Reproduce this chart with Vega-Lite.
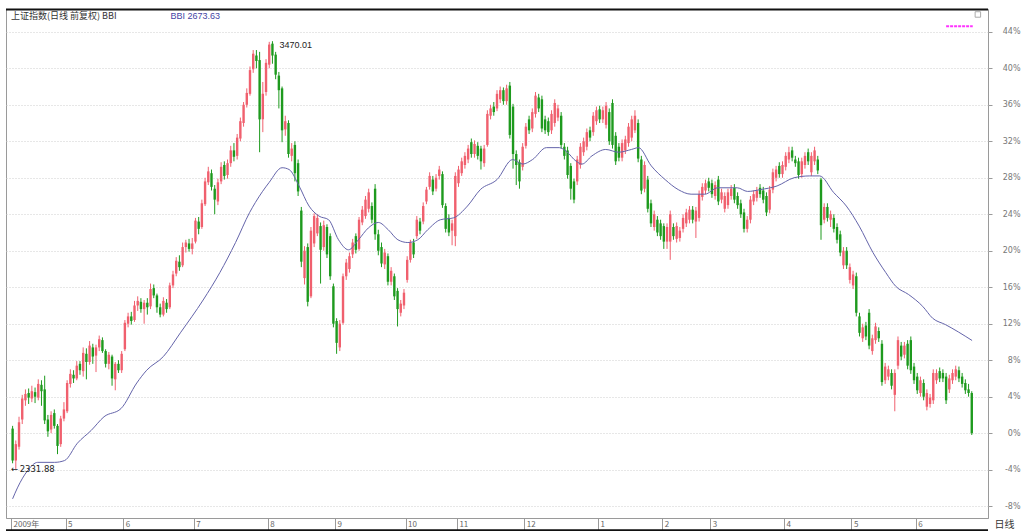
{
"$schema":"https://vega.github.io/schema/vega-lite/v6.json",
"autosize":{"type":"none"},
"padding":{"left":6,"top":9,"right":35,"bottom":13},
"width":982,"height":509,
"background":"white",
"config":{"view":{"stroke":"#9a9a9a"},"font":"DejaVu Sans"},
"datasets":{
"k":[
{"i":0,"o":0.5,"c":-3.0,"h":0.8,"l":-3.3},{"i":1,"o":-3.0,"c":-1.2,"h":-0.8,"l":-3.92},{"i":2,"o":-1.5,"c":1.2,"h":1.8,"l":-1.8},{"i":3,"o":1.5,"c":3.8,"h":4.2,"l":1.0},{"i":4,"o":3.6,"c":4.3,"h":4.8,"l":3.0},{"i":5,"o":4.4,"c":3.9,"h":4.9,"l":3.2},{"i":6,"o":3.8,"c":4.6,"h":5.2,"l":3.4},{"i":7,"o":4.5,"c":4.0,"h":5.0,"l":3.3},{"i":8,"o":3.9,"c":5.4,"h":5.9,"l":3.6},{"i":9,"o":5.3,"c":4.6,"h":5.8,"l":3.0},
{"i":10,"o":4.8,"c":1.4,"h":6.3,"l":1.0},{"i":11,"o":1.5,"c":0.2,"h":2.0,"l":-0.4},{"i":12,"o":0.4,"c":2.0,"h":2.4,"l":0.0},{"i":13,"o":2.2,"c":0.8,"h":2.6,"l":0.5},{"i":14,"o":0.8,"c":-1.4,"h":1.0,"l":-2.3},{"i":15,"o":-1.2,"c":1.6,"h":1.9,"l":-1.5},{"i":16,"o":1.6,"c":2.6,"h":3.4,"l":1.3},
{"i":17,"o":2.4,"c":5.5,"h":5.8,"l":2.2},{"i":18,"o":5.4,"c":6.5,"h":7.0,"l":5.0},{"i":19,"o":6.4,"c":6.0,"h":6.9,"l":5.5},{"i":20,"o":6.0,"c":7.4,"h":7.9,"l":5.8},{"i":21,"o":7.6,"c":6.9,"h":7.9,"l":6.4},{"i":22,"o":6.8,"c":8.8,"h":9.4,"l":6.2},{"i":23,"o":8.7,"c":7.8,"h":9.3,"l":5.9},{"i":24,"o":7.8,"c":9.6,"h":10.1,"l":7.5},{"i":25,"o":9.4,"c":8.4,"h":9.8,"l":7.6},{"i":26,"o":8.5,"c":9.4,"h":9.7,"l":6.7},{"i":27,"o":9.4,"c":10.3,"h":10.7,"l":9.0},{"i":28,"o":10.2,"c":9.0,"h":10.5,"l":8.8},{"i":29,"o":9.0,"c":7.6,"h":9.2,"l":7.2},{"i":30,"o":7.6,"c":8.6,"h":8.9,"l":7.0},{"i":31,"o":8.4,"c":6.0,"h":8.6,"l":5.2},{"i":32,"o":5.9,"c":7.6,"h":7.8,"l":4.7},{"i":33,"o":7.6,"c":6.9,"h":8.0,"l":6.6},{"i":34,"o":6.9,"c":8.7,"h":9.0,"l":6.6},
{"i":35,"o":9.2,"c":12.1,"h":12.4,"l":9.0},{"i":36,"o":12.0,"c":12.8,"h":13.2,"l":11.6},{"i":37,"o":12.8,"c":12.3,"h":13.3,"l":11.9},{"i":38,"o":12.4,"c":14.0,"h":14.5,"l":12.2},{"i":39,"o":14.0,"c":14.5,"h":15.0,"l":13.4},{"i":40,"o":14.4,"c":13.6,"h":14.8,"l":13.2},{"i":41,"o":13.6,"c":14.3,"h":14.6,"l":12.0},{"i":42,"o":14.3,"c":13.8,"h":14.8,"l":13.0},{"i":43,"o":13.9,"c":15.8,"h":16.4,"l":13.6},{"i":44,"o":15.9,"c":15.1,"h":16.3,"l":14.8},{"i":45,"o":15.1,"c":13.8,"h":15.3,"l":13.2},{"i":46,"o":13.8,"c":13.0,"h":14.2,"l":12.7},{"i":47,"o":13.0,"c":14.5,"h":14.9,"l":12.8},{"i":48,"o":14.3,"c":13.6,"h":14.7,"l":13.2},{"i":49,"o":13.8,"c":16.2,"h":16.5,"l":13.6},{"i":50,"o":16.2,"c":17.4,"h":17.8,"l":15.9},{"i":51,"o":17.5,"c":18.9,"h":19.3,"l":17.2},{"i":52,"o":18.8,"c":18.2,"h":19.5,"l":17.8},{"i":53,"o":18.4,"c":20.4,"h":20.9,"l":18.2},{"i":54,"o":20.4,"c":20.9,"h":21.2,"l":19.8},{"i":55,"o":20.8,"c":20.2,"h":21.3,"l":19.9},{"i":56,"o":20.2,"c":20.8,"h":21.4,"l":19.6},
{"i":57,"o":21.0,"c":23.3,"h":23.6,"l":20.8},{"i":58,"o":23.2,"c":22.4,"h":23.7,"l":21.8},{"i":59,"o":22.6,"c":25.2,"h":25.6,"l":22.4},{"i":60,"o":25.1,"c":27.6,"h":28.0,"l":24.9},{"i":61,"o":27.5,"c":28.7,"h":29.2,"l":27.2},{"i":62,"o":28.5,"c":27.0,"h":28.9,"l":26.6},{"i":63,"o":26.8,"c":25.6,"h":27.2,"l":24.0},{"i":64,"o":25.4,"c":27.5,"h":27.9,"l":25.0},{"i":65,"o":27.6,"c":29.2,"h":29.7,"l":27.3},{"i":66,"o":29.4,"c":28.2,"h":29.8,"l":27.8},{"i":67,"o":28.3,"c":29.6,"h":30.0,"l":27.9},{"i":68,"o":29.6,"c":31.0,"h":31.5,"l":29.2},{"i":69,"o":31.0,"c":30.3,"h":31.8,"l":29.8},{"i":70,"o":30.4,"c":32.4,"h":32.8,"l":30.0},{"i":71,"o":32.3,"c":34.2,"h":34.6,"l":32.0},{"i":72,"o":34.0,"c":36.0,"h":36.3,"l":33.6},{"i":73,"o":36.0,"c":37.3,"h":37.8,"l":35.7},{"i":74,"o":37.2,"c":39.8,"h":40.2,"l":37.0},{"i":75,"o":39.9,"c":41.6,"h":42.0,"l":39.5},{"i":76,"o":41.4,"c":40.8,"h":42.0,"l":40.0},{"i":77,"o":40.9,"c":34.4,"h":41.8,"l":30.8},{"i":78,"o":34.4,"c":37.2,"h":38.5,"l":33.0},{"i":79,"o":37.4,"c":40.6,"h":41.0,"l":37.0},
{"i":80,"o":40.4,"c":42.6,"h":42.9,"l":40.0},{"i":81,"o":42.7,"c":41.4,"h":42.97,"l":40.5},{"i":82,"o":41.5,"c":39.3,"h":41.8,"l":38.8},{"i":83,"o":39.2,"c":37.6,"h":39.6,"l":35.6},{"i":84,"o":37.8,"c":33.2,"h":38.0,"l":31.9},{"i":85,"o":33.3,"c":34.2,"h":34.8,"l":32.6},{"i":86,"o":34.0,"c":30.6,"h":34.3,"l":30.2},{"i":87,"o":30.4,"c":31.2,"h":31.8,"l":29.8},{"i":88,"o":31.6,"c":28.5,"h":32.0,"l":27.6},{"i":89,"o":29.6,"c":26.5,"h":30.0,"l":26.0},{"i":90,"o":24.4,"c":18.8,"h":24.8,"l":18.2},{"i":91,"o":17.0,"c":20.0,"h":20.5,"l":16.3},{"i":92,"o":20.4,"c":14.4,"h":20.8,"l":13.9},{"i":93,"o":15.0,"c":22.2,"h":22.6,"l":14.8},{"i":94,"o":20.8,"c":23.8,"h":24.1,"l":20.4},{"i":95,"o":21.9,"c":23.6,"h":24.0,"l":21.6},{"i":96,"o":22.7,"c":20.1,"h":23.1,"l":16.4},{"i":97,"o":20.4,"c":22.8,"h":23.3,"l":20.0},{"i":98,"o":22.6,"c":19.6,"h":22.9,"l":19.2},{"i":99,"o":21.6,"c":17.2,"h":21.9,"l":16.8},{"i":100,"o":16.1,"c":12.0,"h":16.4,"l":11.6},
{"i":101,"o":12.3,"c":9.9,"h":12.6,"l":8.7},{"i":102,"o":9.4,"c":12.0,"h":12.4,"l":9.0},{"i":103,"o":12.1,"c":17.2,"h":17.5,"l":11.9},{"i":104,"o":17.2,"c":18.7,"h":19.1,"l":16.8},{"i":105,"o":18.0,"c":19.4,"h":19.8,"l":17.6},{"i":106,"o":19.6,"c":20.9,"h":21.3,"l":19.2},{"i":107,"o":21.6,"c":20.1,"h":21.9,"l":19.7},{"i":108,"o":20.2,"c":23.4,"h":23.7,"l":20.0},{"i":109,"o":23.1,"c":24.5,"h":24.9,"l":22.8},{"i":110,"o":23.8,"c":25.6,"h":26.0,"l":23.5},{"i":111,"o":24.6,"c":26.4,"h":26.8,"l":24.2},{"i":112,"o":24.9,"c":23.4,"h":25.3,"l":23.0},{"i":113,"o":26.8,"c":21.8,"h":27.3,"l":21.2},{"i":114,"o":21.8,"c":20.0,"h":22.3,"l":19.5},{"i":115,"o":20.4,"c":18.6,"h":20.9,"l":18.2},{"i":116,"o":18.5,"c":19.8,"h":20.2,"l":18.0},{"i":117,"o":19.4,"c":16.6,"h":19.7,"l":16.2},{"i":118,"o":16.6,"c":17.8,"h":18.2,"l":16.2},{"i":119,"o":17.2,"c":15.0,"h":17.5,"l":14.6},{"i":120,"o":15.6,"c":13.6,"h":15.9,"l":11.7},{"i":121,"o":13.2,"c":14.2,"h":14.6,"l":12.8},{"i":122,"o":14.0,"c":15.4,"h":15.8,"l":13.6},
{"i":123,"o":16.8,"c":19.0,"h":19.4,"l":16.5},{"i":124,"o":19.0,"c":20.9,"h":21.2,"l":18.7},{"i":125,"o":20.9,"c":19.6,"h":21.3,"l":19.2},{"i":126,"o":21.6,"c":23.4,"h":23.8,"l":21.3},{"i":127,"o":23.2,"c":22.2,"h":23.6,"l":21.8},{"i":128,"o":23.2,"c":24.9,"h":25.3,"l":22.9},{"i":129,"o":25.4,"c":26.7,"h":27.0,"l":25.1},{"i":130,"o":27.0,"c":28.2,"h":28.6,"l":26.7},{"i":131,"o":27.8,"c":26.5,"h":28.2,"l":26.1},{"i":132,"o":26.8,"c":28.0,"h":28.4,"l":26.5},{"i":133,"o":28.2,"c":28.9,"h":29.3,"l":27.8},{"i":134,"o":28.4,"c":25.0,"h":28.7,"l":24.7},{"i":135,"o":24.9,"c":22.4,"h":25.2,"l":22.0},{"i":136,"o":23.6,"c":22.0,"h":24.0,"l":21.6},{"i":137,"o":22.2,"c":23.0,"h":23.4,"l":20.6},{"i":138,"o":21.6,"c":28.2,"h":28.6,"l":20.5},
{"i":139,"o":27.4,"c":28.9,"h":29.3,"l":27.0},{"i":140,"o":28.5,"c":29.8,"h":30.2,"l":28.2},{"i":141,"o":29.4,"c":30.4,"h":30.8,"l":29.0},{"i":142,"o":30.0,"c":31.2,"h":31.6,"l":29.6},{"i":143,"o":31.9,"c":30.6,"h":32.3,"l":30.2},{"i":144,"o":30.6,"c":31.7,"h":32.1,"l":30.2},{"i":145,"o":31.5,"c":30.4,"h":31.9,"l":30.0},{"i":146,"o":31.2,"c":29.8,"h":31.5,"l":28.9},{"i":147,"o":29.6,"c":31.2,"h":31.6,"l":29.2},{"i":148,"o":31.6,"c":35.0,"h":35.4,"l":31.4},{"i":149,"o":34.8,"c":35.6,"h":36.0,"l":34.4},{"i":150,"o":35.8,"c":35.2,"h":36.3,"l":34.8},{"i":151,"o":35.6,"c":37.2,"h":37.6,"l":35.3},{"i":152,"o":36.6,"c":37.6,"h":38.0,"l":36.2},{"i":153,"o":37.6,"c":36.4,"h":37.9,"l":36.0},{"i":154,"o":36.4,"c":37.8,"h":38.2,"l":36.0},{"i":155,"o":38.1,"c":32.7,"h":38.5,"l":32.3},{"i":156,"o":35.8,"c":30.6,"h":36.1,"l":29.0},{"i":157,"o":30.6,"c":29.4,"h":31.0,"l":27.2},{"i":158,"o":29.7,"c":27.6,"h":30.0,"l":26.8},{"i":159,"o":29.2,"c":31.4,"h":31.8,"l":28.8},
{"i":160,"o":31.5,"c":33.6,"h":34.0,"l":31.2},{"i":161,"o":34.4,"c":33.2,"h":34.8,"l":32.8},{"i":162,"o":33.4,"c":35.2,"h":35.6,"l":33.0},{"i":163,"o":35.0,"c":37.0,"h":37.4,"l":34.6},{"i":164,"o":36.8,"c":35.6,"h":37.2,"l":35.2},{"i":165,"o":36.6,"c":33.4,"h":37.0,"l":33.0},{"i":166,"o":34.4,"c":33.2,"h":34.8,"l":32.8},{"i":167,"o":34.2,"c":33.0,"h":34.6,"l":32.6},{"i":168,"o":33.2,"c":35.0,"h":35.4,"l":32.8},{"i":169,"o":34.0,"c":36.2,"h":36.6,"l":33.6},{"i":170,"o":34.6,"c":35.6,"h":36.0,"l":34.2},{"i":171,"o":34.8,"c":31.6,"h":35.2,"l":31.2},{"i":172,"o":31.4,"c":30.4,"h":31.8,"l":30.0},{"i":173,"o":31.0,"c":28.3,"h":31.4,"l":27.9},{"i":174,"o":29.3,"c":26.8,"h":29.6,"l":25.6},{"i":175,"o":27.6,"c":25.6,"h":27.9,"l":25.2},{"i":176,"o":27.6,"c":30.0,"h":30.4,"l":27.2},{"i":177,"o":29.4,"c":31.4,"h":31.8,"l":29.0},{"i":178,"o":30.8,"c":32.0,"h":32.4,"l":30.4},{"i":179,"o":31.4,"c":33.0,"h":33.4,"l":31.0},{"i":180,"o":33.2,"c":32.4,"h":33.6,"l":32.0},{"i":181,"o":33.0,"c":34.8,"h":35.2,"l":32.6},{"i":182,"o":34.2,"c":35.4,"h":35.8,"l":33.8},
{"i":183,"o":35.5,"c":34.4,"h":35.9,"l":34.0},{"i":184,"o":34.4,"c":35.4,"h":35.8,"l":34.0},{"i":185,"o":33.8,"c":35.9,"h":36.3,"l":33.4},{"i":186,"o":35.2,"c":32.0,"h":35.6,"l":31.6},{"i":187,"o":36.2,"c":31.6,"h":36.6,"l":31.2},{"i":188,"o":32.6,"c":29.8,"h":33.0,"l":29.4},{"i":189,"o":31.4,"c":30.2,"h":31.8,"l":29.8},{"i":190,"o":30.2,"c":31.8,"h":32.2,"l":29.8},{"i":191,"o":31.0,"c":32.2,"h":32.6,"l":30.6},{"i":192,"o":31.8,"c":33.6,"h":34.0,"l":31.4},{"i":193,"o":32.4,"c":34.4,"h":34.8,"l":32.0},{"i":194,"o":33.2,"c":34.8,"h":35.4,"l":32.9},{"i":195,"o":34.0,"c":30.1,"h":34.4,"l":29.7},{"i":196,"o":30.0,"c":26.6,"h":30.4,"l":26.2},{"i":197,"o":26.8,"c":29.4,"h":29.8,"l":26.4},{"i":198,"o":27.8,"c":24.6,"h":28.2,"l":24.2},{"i":199,"o":25.2,"c":23.0,"h":25.6,"l":22.6},{"i":200,"o":22.6,"c":24.0,"h":24.4,"l":22.2},{"i":201,"o":23.4,"c":22.0,"h":23.8,"l":21.6},{"i":202,"o":23.0,"c":21.6,"h":23.4,"l":21.2},
{"i":203,"o":22.7,"c":21.0,"h":23.0,"l":20.2},{"i":204,"o":21.0,"c":22.6,"h":23.0,"l":20.2},{"i":205,"o":21.0,"c":24.0,"h":24.4,"l":19.0},{"i":206,"o":22.6,"c":21.6,"h":23.0,"l":21.2},{"i":207,"o":21.3,"c":22.7,"h":23.1,"l":20.9},{"i":208,"o":21.4,"c":22.2,"h":22.6,"l":21.0},{"i":209,"o":22.4,"c":23.6,"h":24.0,"l":22.0},{"i":210,"o":23.0,"c":24.2,"h":24.6,"l":22.6},{"i":211,"o":23.4,"c":24.5,"h":24.9,"l":23.0},{"i":212,"o":24.5,"c":23.4,"h":24.9,"l":23.0},{"i":213,"o":23.2,"c":24.4,"h":24.8,"l":21.4},{"i":214,"o":23.6,"c":26.2,"h":26.6,"l":23.2},{"i":215,"o":25.9,"c":27.0,"h":27.4,"l":25.5},{"i":216,"o":26.6,"c":27.4,"h":27.8,"l":26.2},{"i":217,"o":27.6,"c":26.9,"h":28.0,"l":26.5},
{"i":218,"o":27.4,"c":26.2,"h":27.8,"l":25.8},{"i":219,"o":26.0,"c":27.2,"h":27.6,"l":25.6},{"i":220,"o":27.8,"c":25.4,"h":28.2,"l":25.0},{"i":221,"o":25.6,"c":26.4,"h":26.8,"l":25.2},{"i":222,"o":24.6,"c":26.0,"h":26.4,"l":24.2},{"i":223,"o":25.0,"c":26.4,"h":26.8,"l":24.6},{"i":224,"o":26.0,"c":26.8,"h":27.2,"l":25.6},{"i":225,"o":26.9,"c":25.6,"h":27.3,"l":25.2},{"i":226,"o":26.0,"c":25.0,"h":26.4,"l":24.6},{"i":227,"o":25.2,"c":24.0,"h":25.6,"l":23.6},{"i":228,"o":24.2,"c":22.4,"h":24.6,"l":22.0},{"i":229,"o":22.4,"c":23.4,"h":23.8,"l":22.0},{"i":230,"o":23.4,"c":25.6,"h":26.0,"l":23.0},{"i":231,"o":25.4,"c":26.2,"h":26.6,"l":25.0},{"i":232,"o":25.8,"c":26.6,"h":27.0,"l":25.4},{"i":233,"o":26.9,"c":26.2,"h":27.3,"l":25.8},{"i":234,"o":26.6,"c":25.6,"h":27.0,"l":25.2},{"i":235,"o":26.0,"c":24.2,"h":26.4,"l":23.8},{"i":236,"o":24.5,"c":26.7,"h":27.1,"l":24.1},{"i":237,"o":26.7,"c":28.6,"h":29.0,"l":26.3},{"i":238,"o":28.0,"c":28.9,"h":29.3,"l":27.6},{"i":239,"o":29.3,"c":28.4,"h":29.7,"l":28.0},{"i":240,"o":28.4,"c":29.4,"h":29.8,"l":28.0},
{"i":241,"o":29.2,"c":30.4,"h":30.8,"l":28.8},{"i":242,"o":30.0,"c":30.8,"h":31.4,"l":29.6},{"i":243,"o":31.0,"c":30.2,"h":31.4,"l":29.8},{"i":244,"o":30.0,"c":29.6,"h":30.4,"l":29.2},{"i":245,"o":29.8,"c":28.3,"h":30.2,"l":27.9},{"i":246,"o":28.4,"c":29.8,"h":30.2,"l":28.0},{"i":247,"o":29.4,"c":30.4,"h":30.8,"l":29.0},{"i":248,"o":30.8,"c":29.8,"h":31.2,"l":29.4},{"i":249,"o":28.6,"c":30.4,"h":30.8,"l":28.2},{"i":250,"o":29.8,"c":31.0,"h":31.4,"l":29.4},{"i":251,"o":30.0,"c":28.8,"h":30.4,"l":28.4},{"i":252,"o":27.8,"c":22.8,"h":28.0,"l":21.2},{"i":253,"o":23.4,"c":24.8,"h":25.2,"l":23.0},{"i":254,"o":24.8,"c":23.6,"h":25.2,"l":23.2},{"i":255,"o":23.4,"c":24.0,"h":24.4,"l":22.6},{"i":256,"o":23.6,"c":22.4,"h":24.0,"l":22.0},{"i":257,"o":22.6,"c":21.2,"h":23.0,"l":20.8},{"i":258,"o":21.8,"c":19.8,"h":22.2,"l":19.4},{"i":259,"o":18.4,"c":20.0,"h":20.4,"l":18.0},{"i":260,"o":20.0,"c":18.4,"h":20.4,"l":18.0},{"i":261,"o":16.8,"c":18.2,"h":18.6,"l":16.4},
{"i":262,"o":16.2,"c":17.4,"h":17.8,"l":15.8},{"i":263,"o":17.2,"c":13.2,"h":17.6,"l":12.8},{"i":264,"o":12.8,"c":11.0,"h":13.2,"l":10.6},{"i":265,"o":10.4,"c":11.6,"h":12.0,"l":10.0},{"i":266,"o":11.8,"c":10.6,"h":12.2,"l":10.2},{"i":267,"o":13.2,"c":9.6,"h":13.6,"l":9.2},{"i":268,"o":9.0,"c":10.4,"h":10.8,"l":8.6},{"i":269,"o":10.2,"c":11.7,"h":12.1,"l":9.8},{"i":270,"o":11.2,"c":10.4,"h":11.6,"l":10.0},{"i":271,"o":9.8,"c":5.6,"h":10.2,"l":5.2},{"i":272,"o":5.8,"c":7.3,"h":7.7,"l":5.4},{"i":273,"o":6.2,"c":7.0,"h":7.4,"l":5.8},{"i":274,"o":6.6,"c":5.2,"h":7.0,"l":4.8},{"i":275,"o":4.2,"c":6.6,"h":7.0,"l":2.4},{"i":276,"o":7.4,"c":10.2,"h":10.6,"l":7.0},{"i":277,"o":9.6,"c":8.4,"h":10.0,"l":8.0},{"i":278,"o":8.6,"c":9.6,"h":10.0,"l":8.2},{"i":279,"o":9.8,"c":7.4,"h":10.2,"l":7.0},{"i":280,"o":10.2,"c":6.9,"h":10.6,"l":6.5},{"i":281,"o":7.3,"c":5.8,"h":7.7,"l":5.4},
{"i":282,"o":6.2,"c":4.7,"h":6.6,"l":4.3},{"i":283,"o":4.4,"c":5.8,"h":6.2,"l":4.0},{"i":284,"o":5.5,"c":4.0,"h":5.9,"l":3.6},{"i":285,"o":2.9,"c":4.4,"h":4.8,"l":2.5},{"i":286,"o":3.2,"c":3.9,"h":4.3,"l":2.8},{"i":287,"o":3.6,"c":6.6,"h":7.0,"l":3.2},{"i":288,"o":5.8,"c":6.6,"h":7.0,"l":5.4},{"i":289,"o":6.8,"c":6.0,"h":7.2,"l":5.6},{"i":290,"o":6.6,"c":6.0,"h":7.0,"l":5.6},{"i":291,"o":6.2,"c":3.6,"h":6.6,"l":3.2},{"i":292,"o":4.8,"c":6.0,"h":6.4,"l":4.4},{"i":293,"o":5.8,"c":6.6,"h":7.0,"l":5.4},{"i":294,"o":6.2,"c":7.0,"h":7.4,"l":5.8},{"i":295,"o":6.9,"c":6.0,"h":7.3,"l":5.6},{"i":296,"o":6.2,"c":5.4,"h":6.6,"l":5.0},{"i":297,"o":5.5,"c":4.7,"h":5.9,"l":4.3},{"i":298,"o":4.8,"c":4.4,"h":5.4,"l":4.0},{"i":299,"o":4.4,"c":0.0,"h":4.6,"l":-0.2}
],
"bbi":[
{"i":0,"b":-7.2},{"i":1.5,"b":-6.0},{"i":4.7,"b":-4.1},{"i":7.8,"b":-3.2},{"i":13.1,"b":-3.2},{"i":16.2,"b":-3.0},{"i":20.2,"b":-1.1},{"i":24.5,"b":0.3},{"i":28.5,"b":1.8},{"i":33.8,"b":2.7},{"i":38.7,"b":5.5},{"i":41.8,"b":6.9},{"i":47,"b":8.4},{"i":52.3,"b":11.0},{"i":59.4,"b":14.6},{"i":64.6,"b":17.6},{"i":69.5,"b":20.9},{"i":73.9,"b":24.2},{"i":75.7,"b":25.3},{"i":80,"b":27.5},{"i":84,"b":29.1},{"i":86.2,"b":28.9},{"i":89.3,"b":27.1},{"i":92.4,"b":24.9},{"i":95.5,"b":23.8},{"i":98.5,"b":23.4},{"i":101.6,"b":21.2},{"i":104.7,"b":20.1},{"i":107.8,"b":21.2},{"i":110.9,"b":22.5},{"i":114,"b":23.1},{"i":117.1,"b":22.3},{"i":120.1,"b":21.2},{"i":123.2,"b":20.9},{"i":126.3,"b":21.2},{"i":129.4,"b":22.3},{"i":133.4,"b":23.4},{"i":137.4,"b":23.6},{"i":141.8,"b":24.9},{"i":145.8,"b":26.7},{"i":151,"b":27.8},{"i":155.9,"b":30.0},{"i":159,"b":29.5},{"i":162.1,"b":30.0},{"i":166.4,"b":31.3},{"i":170.4,"b":31.3},{"i":172.6,"b":30.9},{"i":175.7,"b":29.8},{"i":177.5,"b":29.5},{"i":180.6,"b":30.4},{"i":184.9,"b":31.1},{"i":188.9,"b":30.8},{"i":192.9,"b":31.1},{"i":195.1,"b":31.3},{"i":199.1,"b":29.3},{"i":203.4,"b":27.8},{"i":207.5,"b":26.7},{"i":211.5,"b":26.2},{"i":215.8,"b":26.2},{"i":219.8,"b":26.9},{"i":225.9,"b":26.9},{"i":229.1,"b":26.5},{"i":233.1,"b":26.7},{"i":238.3,"b":27.1},{"i":243.6,"b":28.0},{"i":248.5,"b":28.2},{"i":251.6,"b":28.2},{"i":255.9,"b":26.4},{"i":259.9,"b":24.9},{"i":263.9,"b":22.7},{"i":268.2,"b":19.8},{"i":272.2,"b":17.6},{"i":275.3,"b":16.1},{"i":279.3,"b":15.2},{"i":283.7,"b":13.9},{"i":286.8,"b":12.6},{"i":290.8,"b":11.9},{"i":294.8,"b":11.1},{"i":299.1,"b":10.16}
],
"notes":[
{"i":81,"p":42.97,"t":"3470.01"},
{"i":1,"p":-3.92,"t":"\u2190\u20092331.88"}
]
},
"layer":[
{"data":{"name":"k"},"mark":{"type":"rule","strokeWidth":1},
 "encoding":{
  "x":{"field":"i","type":"quantitative","title":"日线","scale":{"domain":[-0.5,302.5],"nice":false,"zero":false},
   "axis":{"values":[-0.5,16.5,34.5,56.5,79.5,100.5,122.5,138.5,159.5,182.5,202.5,217.5,240.5,261.5,281.5],"tickCount":40,
    "labelExpr":"['2009年','5','6','7','8','9','10','11','12','1','2','3','4','5','6'][indexof([-0.5,16.5,34.5,56.5,79.5,100.5,122.5,138.5,159.5,182.5,202.5,217.5,240.5,261.5,281.5], datum.value)]",
    "grid":false,"tickSize":12,"tickColor":"#9a9a9a","domainColor":"#9a9a9a","labelPadding":-10,"labelAlign":"left","labelBaseline":"top","labelOffset":2,"labelFlush":false,"labelOverlap":false,"labelBound":false,"labelFont":"Noto Sans CJK SC","labelFontSize":8,"labelColor":"#666",
    "titleX":988,"titleY":1,"titleAlign":"left","titleBaseline":"top","titleFont":"Noto Sans CJK SC","titleFontSize":10,"titleFontWeight":"normal","titleColor":"#333","titleAnchor":null}},
  "y":{"field":"l","type":"quantitative","title":null,"scale":{"domain":[-9.3,46.5],"nice":false,"zero":false},
   "axis":{"orient":"right","values":[-8,-4,0,4,8,12,16,20,24,28,32,36,40,44],"tickCount":40,"labelExpr":"datum.value + '%'","labelOverlap":false,"labelBound":false,"labelFlush":false,"grid":true,"gridColor":"#cfcfcf","gridDash":[1,2],"domain":false,"tickSize":4,"tickColor":"#9a9a9a","labelAlign":"right","labelPadding":28,"labelFontSize":8,"labelColor":"#777","labelBaseline":"middle"}},
  "y2":{"field":"h"},
  "color":{"condition":{"test":"datum.c >= datum.o","value":"#f0606e"},"value":"#1e9a1e"}
 }},
{"data":{"name":"k"},"mark":{"type":"bar","width":2.4},
 "encoding":{
  "x":{"field":"i","type":"quantitative"},
  "y":{"field":"o","type":"quantitative"},
  "y2":{"field":"c"},
  "color":{"condition":{"test":"datum.c >= datum.o","value":"#f0606e"},"value":"#1e9a1e"}
 }},
{"data":{"name":"bbi"},"mark":{"type":"line","color":"#6464aa","strokeWidth":1,"interpolate":"monotone"},
 "encoding":{"x":{"field":"i","type":"quantitative"},"y":{"field":"b","type":"quantitative"}}},
{"data":{"name":"notes"},"transform":[{"filter":"datum.i > 50"}],"mark":{"type":"text","align":"left","baseline":"middle","fontSize":9,"font":"Liberation Sans","color":"#222","dx":7,"dy":4},
 "encoding":{"x":{"field":"i","type":"quantitative"},"y":{"field":"p","type":"quantitative"},"text":{"field":"t"}}},
{"data":{"name":"notes"},"transform":[{"filter":"datum.i < 50"}],"mark":{"type":"text","align":"left","baseline":"middle","fontSize":8.5,"font":"DejaVu Sans","color":"#222","dx":-5,"dy":0},
 "encoding":{"x":{"field":"i","type":"quantitative"},"y":{"field":"p","type":"quantitative"},"text":{"field":"t"}}},
{"data":{"values":[{}]},"mark":{"type":"text","align":"left","baseline":"middle","fontSize":9,"font":"Noto Sans CJK SC","color":"#333","text":"上证指数(日线 前复权) BBI","dx":0},
 "encoding":{"x":{"datum":-0.5,"type":"quantitative"},"y":{"datum":45.7,"type":"quantitative"}}},
{"data":{"values":[{}]},"mark":{"type":"text","align":"left","baseline":"middle","fontSize":9,"font":"Liberation Sans","color":"#4545a5","text":"BBI 2673.63"},
 "encoding":{"x":{"datum":49.2,"type":"quantitative"},"y":{"datum":45.7,"type":"quantitative"}}},
{"data":{"values":[{}]},"mark":{"type":"rule","color":"#ff33ff","strokeWidth":2,"strokeDash":[3,1]},
 "encoding":{"x":{"datum":291,"type":"quantitative"},"x2":{"datum":299.3},"y":{"datum":44.6,"type":"quantitative"}}},
{"data":{"values":[{}]},"mark":{"type":"point","shape":"square","filled":false,"size":30,"color":"#888","strokeWidth":1},
 "encoding":{"x":{"datum":300.9,"type":"quantitative"},"y":{"datum":45.9,"type":"quantitative"}}},
{"data":{"values":[{}]},"mark":{"type":"rule","color":"#111","strokeWidth":2},
 "encoding":{"y":{"datum":46.45,"type":"quantitative"}}},
{"data":{"values":[{}]},"mark":{"type":"rule","color":"#111","strokeWidth":2},
 "encoding":{"y":{"datum":-10.65,"type":"quantitative"}}}
]
}
